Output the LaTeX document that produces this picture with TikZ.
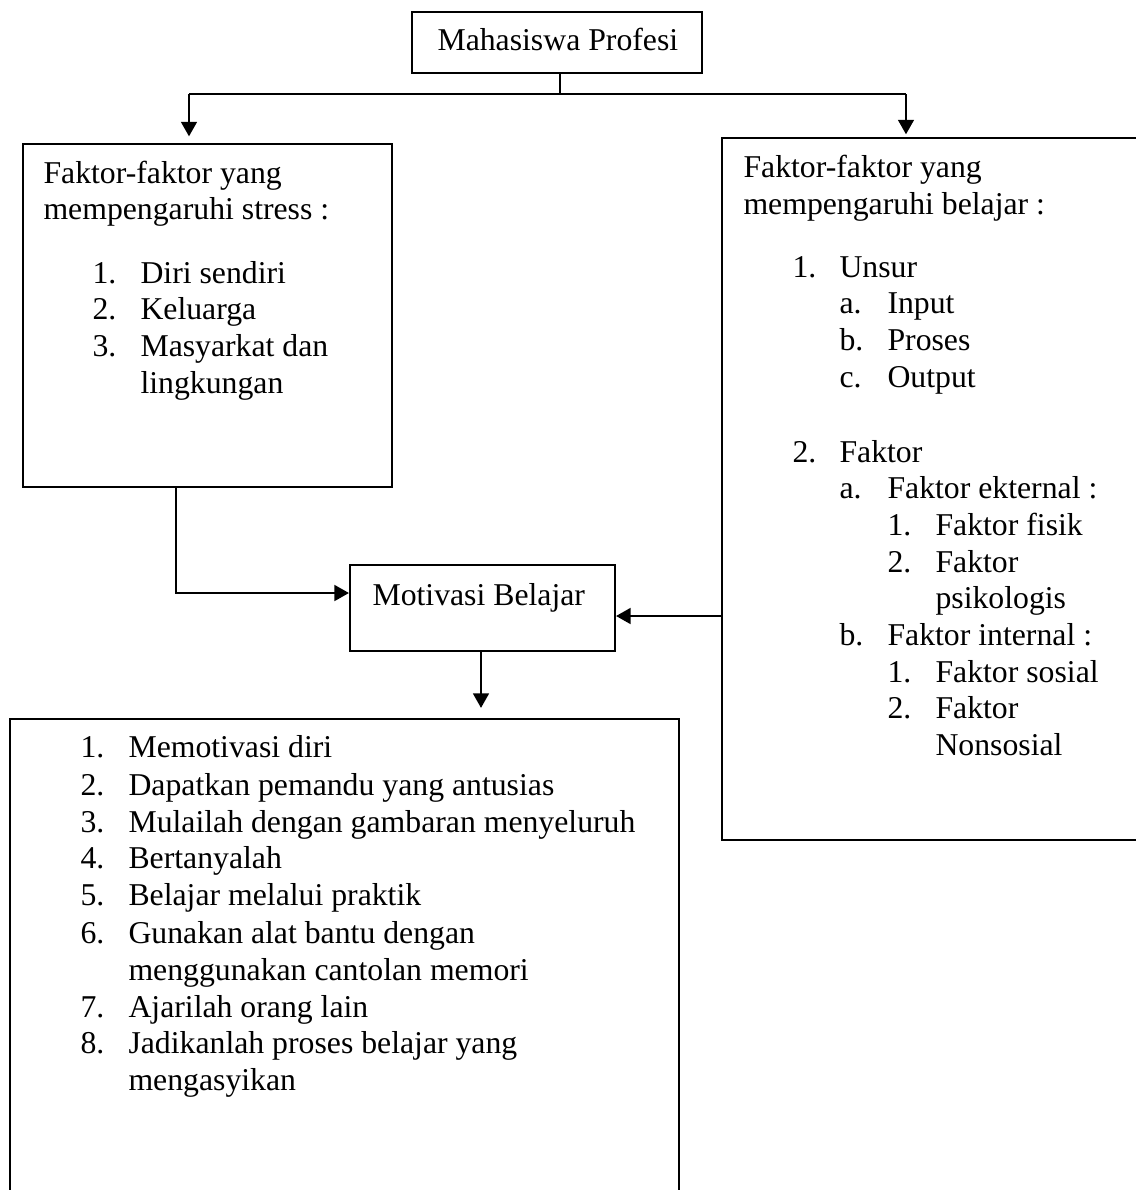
\documentclass[tikz,border=0pt]{standalone}
\usepackage{fontspec}
\setmainfont{Liberation Serif}
\usetikzlibrary{arrows.meta,fit}
\begin{document}
\begin{tikzpicture}[x=0.378pt,y=-0.378pt,
  box/.style={draw,line width=0.8pt,inner sep=0pt},
  txt/.style={anchor=base west,inner sep=0pt,font=\fontsize{12}{13.8}\selectfont},
  conn/.style={line width=0.8pt},
  arr/.style={line width=0.8pt,-{Triangle[width=6pt,length=5.5pt]}}]
\useasboundingbox (0,0) rectangle (1136,1190);
\clip (0,0) rectangle (1136,1190);
% box corners
\coordinate (ta) at (412,12);  \coordinate (tb) at (702,73);
\coordinate (la) at (23,144);  \coordinate (lb) at (392,487);
\coordinate (ra) at (722,138); \coordinate (rb) at (1150,840);
\coordinate (ma) at (350,565); \coordinate (mb) at (615,651);
\coordinate (ba) at (10,719);  \coordinate (bb) at (679,1210);
\node[box,fit=(ta)(tb)] (top) {};
\node[box,fit=(la)(lb)] (left) {};
\node[box,fit=(ra)(rb)] (right) {};
\node[box,fit=(ma)(mb)] (motiv) {};
\node[box,fit=(ba)(bb)] (bottom) {};
% texts
\node[txt] (ttop) at (437,50) {Mahasiswa Profesi};
\node[txt] (tmot) at (372,605) {Motivasi Belajar};
% left box
\node[txt] (l1) at (43,183) {Faktor-faktor yang};
\node[txt] (l2) at (43,219) {mempengaruhi stress :};
\node[txt] (l3n) at (92,283) {1.}; \node[txt] (l3) at (140,283) {Diri sendiri};
\node[txt] (l4n) at (92,319) {2.}; \node[txt] (l4) at (140,319) {Keluarga};
\node[txt] (l5n) at (92,356) {3.}; \node[txt] (l5) at (140,356) {Masyarkat dan};
\node[txt] (l6) at (140,393) {lingkungan};
% right box
\node[txt] (r1) at (743,177) {Faktor-faktor yang};
\node[txt] (r2) at (743,214) {mempengaruhi belajar :};
\node[txt] (r3n) at (792,277) {1.}; \node[txt] (r3) at (839,277) {Unsur};
\node[txt] (r4n) at (839,313) {a.}; \node[txt] (r4) at (887,313) {Input};
\node[txt] (r5n) at (839,350) {b.}; \node[txt] (r5) at (887,350) {Proses};
\node[txt] (r6n) at (839,387) {c.}; \node[txt] (r6) at (887,387) {Output};
\node[txt] (r7n) at (792,462) {2.}; \node[txt] (r7) at (839,462) {Faktor};
\node[txt] (r8n) at (839,498) {a.}; \node[txt] (r8) at (887,498) {Faktor ekternal :};
\node[txt] (r9n) at (887,535) {1.}; \node[txt] (r9) at (935,535) {Faktor fisik};
\node[txt] (r10n) at (887,572) {2.}; \node[txt] (r10) at (935,572) {Faktor};
\node[txt] (r11) at (935,608) {psikologis};
\node[txt] (r12n) at (839,645) {b.}; \node[txt] (r12) at (887,645) {Faktor internal :};
\node[txt] (r13n) at (887,682) {1.}; \node[txt] (r13) at (935,682) {Faktor sosial};
\node[txt] (r14n) at (887,718) {2.}; \node[txt] (r14) at (935,718) {Faktor};
\node[txt] (r15) at (935,755) {Nonsosial};
% bottom box
\node[txt] (b1n) at (80,757) {1.}; \node[txt] (b1) at (128,757) {Memotivasi diri};
\node[txt] (b2n) at (80,795) {2.}; \node[txt] (b2) at (128,795) {Dapatkan pemandu yang antusias};
\node[txt] (b3n) at (80,832) {3.}; \node[txt] (b3) at (128,832) {Mulailah dengan gambaran menyeluruh};
\node[txt] (b4n) at (80,868) {4.}; \node[txt] (b4) at (128,868) {Bertanyalah};
\node[txt] (b5n) at (80,905) {5.}; \node[txt] (b5) at (128,905) {Belajar melalui praktik};
\node[txt] (b6n) at (80,943) {6.}; \node[txt] (b6) at (128,943) {Gunakan alat bantu dengan};
\node[txt] (b7) at (128,980) {menggunakan cantolan memori};
\node[txt] (b8n) at (80,1017) {7.}; \node[txt] (b8) at (128,1017) {Ajarilah orang lain};
\node[txt] (b9n) at (80,1053) {8.}; \node[txt] (b9) at (128,1053) {Jadikanlah proses belajar yang};
\node[txt] (b10) at (128,1090) {mengasyikan};
% connectors
\coordinate (split) at (560,94);
\coordinate (jl) at (189,94);
\coordinate (jr) at (906,94);
\coordinate (lc) at (176,593);
\coordinate (rc) at (722,616);
\coordinate (dc) at (481,651);
\draw[conn] (top.south -| split) -- (split);
\draw[conn] (jl) -- (jr);
\draw[arr,shorten >=2.5pt] (jl) -- (jl |- left.north);
\draw[arr,shorten >=1pt] (jr) -- (jr |- right.north);
\draw[arr] (left.south -| lc) |- (lc -| motiv.west);
\draw[arr] (rc -| right.west) -- (rc -| motiv.east);
\draw[arr,shorten >=3.8pt] (dc |- motiv.south) -- (dc |- bottom.north);
\end{tikzpicture}
\end{document}
